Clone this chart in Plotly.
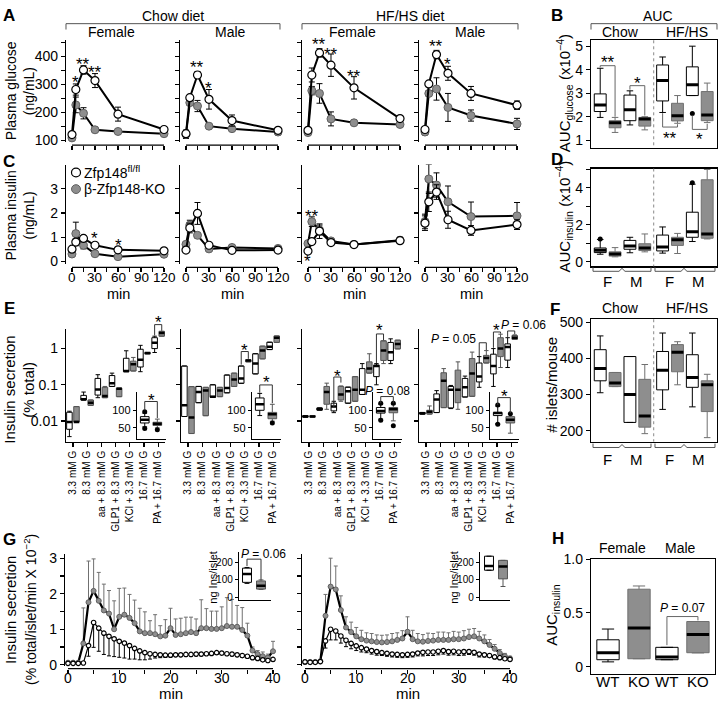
import math
import plotly.graph_objects as go

W, H = 722, 708
FONT = "Liberation Sans, Arial, Helvetica, sans-serif"
GRAY = "#8e8e8e"
GRAY_EDGE = "#606060"

# ====================== DATA ======================
GTT_MIN = [0, 5, 15, 30, 60, 120]

GLU_CF_WT = [120, 281, 351, 313, 193, 138]
GLU_CF_WT_ERR = [8, 20, 15, 25, 25, 10]
GLU_CF_KO = [108, 226, 196, 137, 131, 123]
GLU_CF_KO_ERR = [8, 28, 20, 8, 8, 8]
GLU_CM_WT = [123, 252, 333, 246, 170, 135]
GLU_CM_WT_ERR = [10, 8, 12, 35, 20, 8]
GLU_CM_KO = [121, 234, 222, 150, 141, 129]
GLU_CM_KO_ERR = [15, 10, 20, 8, 8, 10]
GLU_HF_WT = [135, 333, 412, 368, 287, 177]
GLU_HF_WT_ERR = [10, 25, 15, 40, 40, 8]
GLU_HF_KO = [127, 277, 267, 176, 162, 156]
GLU_HF_KO_ERR = [8, 15, 35, 25, 8, 8]
GLU_HM_WT = [138, 301, 406, 339, 267, 225]
GLU_HM_WT_ERR = [10, 8, 15, 25, 25, 15]
GLU_HM_KO = [129, 267, 283, 217, 188, 158]
GLU_HM_KO_ERR = [10, 10, 40, 50, 20, 20]

INS_CF_WT = [0.51, 0.80, 0.95, 0.67, 0.48, 0.44]
INS_CF_WT_ERR = [0.05, 0.15, 0.12, 0.10, 0.05, 0.05]
INS_CF_KO = [0.31, 1.15, 0.67, 0.32, 0.20, 0.30]
INS_CF_KO_ERR = [0.05, 0.47, 0.15, 0.05, 0.05, 0.05]
INS_CM_WT = [0.47, 1.38, 1.98, 0.67, 0.46, 0.47]
INS_CM_WT_ERR = [0.05, 0.20, 0.45, 0.05, 0.05, 0.05]
INS_CM_KO = [0.71, 1.50, 1.08, 0.52, 0.58, 0.54]
INS_CM_KO_ERR = [0.10, 0.20, 0.10, 0.05, 0.12, 0.08]
INS_HF_WT = [0.43, 0.82, 1.25, 0.78, 0.70, 0.86]
INS_HF_WT_ERR = [0.05, 0.10, 0.30, 0.10, 0.05, 0.10]
INS_HF_KO = [0.74, 1.64, 1.30, 0.85, 0.70, 0.88]
INS_HF_KO_ERR = [0.08, 0.20, 0.20, 0.10, 0.08, 0.12]
INS_HM_WT = [1.58, 2.46, 2.86, 1.72, 1.28, 1.52]
INS_HM_WT_ERR = [0.30, 0.40, 0.30, 0.35, 0.20, 0.20]
INS_HM_KO = [1.65, 3.40, 3.15, 2.46, 1.85, 1.88]
INS_HM_KO_ERR = [0.30, 0.60, 0.50, 0.65, 0.60, 0.55]

GTT_TICKS = [0, 15, 30, 45, 60, 75, 90, 105, 120]
GTT_LABELS = [0, 30, 60, 90, 120]

GLU_STARS = [[(5, 322, '*'), (15, 386, '**'), (30, 359, '**')],
             [(15, 374, '**'), (30, 302, '*')],
             [(15, 456, '**'), (30, 421, '**'), (60, 345, '**')],
             [(15, 450, '**'), (30, 386, '*')]]
INS_STARS = [[(30, 1.14, '*'), (60, 0.85, '*')], [],
             [(5, 2.05, '**'), (0, 0.2, '*')], []]

# box stats: (low whisker, q1, median, q3, high whisker); groups: Chow F, Chow M, HF F, HF M
AUCG_WT = [(1.97, 2.22, 2.50, 2.97, 4.06), (1.65, 1.83, 2.30, 2.92, 3.10),
           (2.18, 2.67, 3.54, 4.20, 4.54), (2.90, 2.90, 3.36, 4.12, 5.00)]
AUCG_KO = [(1.33, 1.53, 1.74, 1.83, 1.97), (1.44, 1.60, 1.90, 1.97, 2.00),
           (1.72, 1.82, 2.04, 2.57, 2.90), (1.75, 1.83, 2.07, 3.07, 3.43)]
AUCG_WT_OUT = [[], [], [], [2.14]]

AUCI_WT = [(0.40, 0.49, 0.62, 0.74, 1.20), (0.48, 0.67, 0.85, 1.15, 1.32),
           (0.46, 0.58, 0.79, 1.44, 1.88), (1.09, 1.32, 1.62, 2.68, 4.20)]
AUCI_KO = [(0.26, 0.30, 0.42, 0.53, 0.76), (0.53, 0.60, 0.74, 0.97, 1.50),
           (0.44, 0.88, 1.18, 1.32, 1.53), (1.23, 1.27, 1.50, 4.44, 5.00)]
AUCI_WT_OUT = [[1.23], [], [], [4.28]]

ISLET_WT = [(305, 338, 372, 424, 462), (223, 223, 300, 405, 405),
            (259, 313, 367, 419, 470), (266, 320, 347, 410, 470)]
ISLET_KO = [(322, 322, 332, 361, 361), (192, 210, 241, 342, 383),
            (327, 363, 417, 438, 446), (181, 253, 327, 338, 356)]

E_LABELS = ['3.3 mM G', '8.3 mM G', 'aa + 8.3 mM G', 'GLP1 + 8.3 mM G',
            'KCl + 3.3 mM G', '16.7 mM G', 'PA + 16.7 mM G']
E_CF_WT = [(0.0037, 0.0059, 0.0094, 0.0174, 0.0186), (0.038, 0.038, 0.040, 0.051, 0.063),
           (0.044, 0.052, 0.074, 0.15, 0.19), (0.09, 0.09, 0.11, 0.18, 0.21),
           (0.23, 0.23, 0.24, 0.54, 0.87), (0.23, 0.31, 0.49, 0.96, 1.23), (0.78, 1.0, 1.45, 2.0, 2.2)]
E_CF_KO = [(0.0094, 0.0094, 0.0094, 0.025, 0.025), (0.027, 0.027, 0.032, 0.038, 0.038),
           (0.044, 0.044, 0.049, 0.085, 0.09), (0.047, 0.047, 0.078, 0.081, 0.081),
           (0.24, 0.24, 0.37, 0.45, 0.57), (0.71, 0.71, 0.75, 0.78, 0.78), (2.2, 2.2, 2.7, 3.0, 3.0)]
E_CM_WT = [(0.0133, 0.0133, 0.027, 0.33, 0.33), (0.032, 0.032, 0.063, 0.09, 0.09),
           (0.045, 0.045, 0.047, 0.10, 0.10), (0.06, 0.06, 0.081, 0.186, 0.186),
           (0.11, 0.11, 0.15, 0.33, 0.33), (0.2, 0.2, 0.385, 0.72, 0.72), (0.94, 0.94, 1.13, 1.5, 1.5)]
E_CM_KO = [(0.0045, 0.0045, 0.0125, 0.089, 0.089), (0.014, 0.014, 0.07, 0.085, 0.085),
           (0.047, 0.047, 0.069, 0.085, 0.085), (0.09, 0.09, 0.14, 0.21, 0.21),
           (0.43, 0.43, 0.47, 0.49, 0.49), (0.52, 0.52, 0.88, 1.17, 1.17), (1.48, 1.48, 2.0, 2.24, 2.24)]
E_HF_WT = [(0.0128, 0.0128, 0.0134, 0.014, 0.014), (0.02, 0.02, 0.021, 0.023, 0.023),
           (0.017, 0.019, 0.025, 0.031, 0.035), (0.031, 0.031, 0.066, 0.086, 0.086),
           (0.054, 0.054, 0.073, 0.28, 0.385), (0.1, 0.168, 0.33, 0.35, 0.385), (0.385, 0.47, 0.79, 1.48, 1.86)]
E_HF_KO = [(0.0128, 0.0128, 0.0134, 0.014, 0.014), (0.021, 0.029, 0.063, 0.09, 0.111),
           (0.035, 0.038, 0.054, 0.09, 0.093), (0.035, 0.035, 0.073, 0.168, 0.168),
           (0.21, 0.21, 0.28, 0.43, 0.72), (0.385, 0.47, 0.88, 1.64, 1.64), (0.98, 0.98, 1.34, 1.71, 1.71)]
E_HM_WT = [(0.0155, 0.0155, 0.0164, 0.0172, 0.0172), (0.0171, 0.0171, 0.039, 0.056, 0.069),
           (0.022, 0.023, 0.073, 0.09, 0.096), (0.046, 0.046, 0.085, 0.15, 0.174),
           (0.085, 0.12, 0.17, 0.4, 0.6), (0.09, 0.2, 0.33, 0.7, 1.0), (0.3, 0.48, 1.1, 1.35, 2.0)]
E_HM_KO = [(0.0155, 0.0155, 0.018, 0.0198, 0.026), (0.0234, 0.0234, 0.13, 0.215, 0.28),
           (0.021, 0.032, 0.073, 0.254, 0.43), (0.048, 0.048, 0.206, 0.53, 0.8),
           (0.4, 0.4, 0.55, 0.65, 0.88), (0.3, 0.6, 1.0, 2.0, 2.5), (1.8, 1.8, 2.0, 2.3, 2.4)]

# insets (16.7 mM G)
EI_CF_WT, EI_CF_KO = (53, 64, 73, 82, 92), (50, 57, 62, 66, 75)
EI_CM_WT, EI_CM_KO = (85, 100, 117, 135, 148), (69, 76, 89, 94, 117)
EI_HF_WT, EI_HF_KO = (75, 92, 98, 108, 117), (70, 93, 103, 108, 117)
EI_HM_WT, EI_HM_KO = (62, 85, 92, 94, 112), (35, 64, 73, 82, 89)
EI_OUT_WT = [[96, 48], [], [120, 72], [115, 60]]
EI_OUT_KO = [[45], [64], [120, 56], [90]]

PERI_MIN = list(range(41))
PERI_TICKS = [0, 5, 10, 15, 20, 25, 30, 35, 40]
PERI_LABELS = [0, 10, 20, 30, 40]
G1_KO = [0.06, 0.06, 0.06, 0.60, 1.76, 2.08, 1.80, 1.53, 1.44, 1.00, 1.35, 1.41, 1.32, 1.17, 0.94,
         0.89, 0.89, 0.86, 0.80, 0.82, 1.03, 0.84, 0.86, 0.89, 0.92, 0.89, 1.03, 1.03, 1.01, 1.01,
         1.03, 1.09, 1.07, 1.07, 0.98, 0.82, 0.40, 0.30, 0.24, 0.20, 0.38]
G1_KO_ERR = [0.02, 0.02, 0.02, 1.00, 1.16, 0.90, 0.80, 0.74, 0.65, 0.80, 0.80, 0.75, 0.66, 0.65, 0.65,
             0.60, 0.35, 0.55, 0.30, 0.45, 0.56, 0.45, 0.45, 0.45, 0.42, 0.40, 0.80, 0.55, 0.50, 0.50,
             0.60, 0.80, 0.77, 0.60, 0.63, 0.35, 0.10, 0.10, 0.12, 0.10, 0.28]
G1_WT = [0.04, 0.04, 0.04, 0.05, 0.54, 1.19, 1.03, 0.89, 0.80, 0.73, 0.66, 0.61, 0.54, 0.46, 0.39,
         0.34, 0.31, 0.29, 0.28, 0.27, 0.27, 0.28, 0.28, 0.29, 0.29, 0.30, 0.30, 0.31, 0.32, 0.34,
         0.33, 0.31, 0.30, 0.28, 0.26, 0.24, 0.20, 0.18, 0.14, 0.12, 0.15]
G1_WT_ERR = [0.01, 0.01, 0.01, 0.01, 0.30, 0.70, 0.65, 0.60, 0.55, 0.50, 0.45, 0.42, 0.38, 0.30, 0.25,
             0.20, 0.15, 0.10, 0.08, 0.06, 0.05, 0.05, 0.05, 0.05, 0.05, 0.05, 0.05, 0.05, 0.05, 0.05,
             0.05, 0.05, 0.05, 0.05, 0.05, 0.05, 0.05, 0.05, 0.04, 0.04, 0.04]
G2_KO = [0.08, 0.08, 0.08, 0.10, 1.38, 2.20, 2.12, 1.54, 1.05, 0.92, 0.80, 0.72, 0.68, 0.66, 0.64,
         0.63, 0.64, 0.66, 0.70, 0.74, 0.93, 0.72, 0.66, 0.65, 0.67, 0.68, 0.70, 0.70, 0.70, 0.72,
         0.72, 0.74, 0.78, 0.80, 0.74, 0.66, 0.56, 0.45, 0.33, 0.24, 0.18]
G2_KO_ERR = [0.02, 0.02, 0.02, 0.02, 0.60, 0.80, 0.66, 0.40, 0.30, 0.28, 0.25, 0.25, 0.22, 0.22, 0.20,
             0.20, 0.20, 0.22, 0.20, 0.22, 0.42, 0.25, 0.22, 0.20, 0.22, 0.20, 0.22, 0.22, 0.20, 0.22,
             0.20, 0.22, 0.22, 0.22, 0.20, 0.18, 0.15, 0.12, 0.10, 0.08, 0.06]
G2_WT = [0.08, 0.07, 0.07, 0.09, 0.67, 1.00, 0.95, 0.81, 0.69, 0.60, 0.53, 0.48, 0.44, 0.40, 0.37,
         0.34, 0.32, 0.30, 0.29, 0.28, 0.29, 0.30, 0.33, 0.35, 0.36, 0.36, 0.38, 0.40, 0.37, 0.38,
         0.36, 0.37, 0.37, 0.35, 0.30, 0.28, 0.26, 0.22, 0.20, 0.17, 0.15]
G2_WT_ERR = [0.01, 0.01, 0.01, 0.01, 0.20, 0.30, 0.25, 0.20, 0.18, 0.15, 0.13, 0.12, 0.10, 0.10, 0.10,
             0.08, 0.08, 0.08, 0.08, 0.08, 0.08, 0.08, 0.08, 0.10, 0.10, 0.10, 0.10, 0.10, 0.10, 0.10,
             0.10, 0.10, 0.08, 0.08, 0.08, 0.06, 0.05, 0.05, 0.04, 0.04, 0.03]
GI1_WT, GI1_KO = (80, 86, 134, 168, 172), (45, 47, 66, 94, 100)
GI2_WT, GI2_KO = (156, 156, 181, 237, 237), (62, 106, 178, 213, 213)

H_WT = [(0.045, 0.065, 0.13, 0.25, 0.35), (0.065, 0.065, 0.09, 0.18, 0.18)]
H_KO = [(0.074, 0.074, 0.36, 0.72, 0.75), (0.128, 0.13, 0.30, 0.42, 0.42)]

# ====================== HELPERS ======================
fig = go.Figure()
layout = dict(width=W, height=H, margin=dict(l=0, r=0, t=0, b=0), paper_bgcolor='white',
              plot_bgcolor='rgba(0,0,0,0)', showlegend=False,
              font=dict(family=FONT, size=14, color='black'))
shapes, annots = [], []
n_ax = [0]


def PX(p):
    return p / W


def PY(p):
    return 1 - p / H


class Panel:
    def __init__(self, xd, yd, xr, yr, ylog):
        self.xd, self.yd, self.xr, self.yr, self.ylog = xd, yd, xr, yr, ylog

    def px(self, v):
        return self.xd[0] + (v - self.xr[0]) / (self.xr[1] - self.xr[0]) * (self.xd[1] - self.xd[0])

    def py(self, v):
        vv = math.log10(v) if self.ylog else v
        return self.yd[1] - (vv - self.yr[0]) / (self.yr[1] - self.yr[0]) * (self.yd[1] - self.yd[0])


def axes(xd, yd, xr, yr, xopt=None, yopt=None, ylog=False, fs=14):
    n_ax[0] += 1
    n = n_ax[0]
    sx = '' if n == 1 else str(n)
    xid, yid = 'x' + sx, 'y' + sx
    base = dict(showgrid=False, zeroline=False, linecolor='black', linewidth=1.2, ticks='outside',
                ticklen=4, tickwidth=1.1, tickcolor='black', fixedrange=True,
                tickfont=dict(family=FONT, size=fs, color='black'))
    xa = dict(base, domain=[PX(xd[0]), PX(xd[1])], range=list(xr), anchor=yid)
    ya = dict(base, domain=[PY(yd[1]), PY(yd[0])], range=list(yr), anchor=xid)
    if ylog:
        ya['type'] = 'log'
    xa.update(xopt or {})
    ya.update(yopt or {})
    layout['xaxis' + sx] = xa
    layout['yaxis' + sx] = ya
    return xid, yid, Panel(xd, yd, xr, yr, ylog)


def line_px(pts, color='black', width=1.0, dash=None):
    path = 'M ' + ' L '.join('%.5f,%.5f' % (PX(x), PY(y)) for x, y in pts)
    ln = dict(color=color, width=width)
    if dash:
        ln['dash'] = dash
    shapes.append(dict(type='path', path=path, xref='paper', yref='paper', line=ln, layer='above'))


def text_px(x, y, s, size=14, xanchor='center', angle=0, color='black'):
    annots.append(dict(x=PX(x), y=PY(y), xref='paper', yref='paper', text=s, showarrow=False,
                       xanchor=xanchor, yanchor='middle', textangle=angle,
                       font=dict(family=FONT, size=size, color=color)))


def vtitle(x, y, s, size=15):
    # rotated text: the glyphs sit right of the box centre, so nudge left
    text_px(x - 3, y, s, size, angle=-90)


def star(p, x, y, s, size=17):
    text_px(p.px(x), p.py(y) + 4.5, s, size)


def bracket(p, xa, ya, xb, yb, ybar, color='#333333'):
    line_px([(p.px(xa), p.py(ya)), (p.px(xa), p.py(ybar)), (p.px(xb), p.py(ybar)),
             (p.px(xb), p.py(yb))], color=color, width=1)


def group_br(xl, xm, xr, y):
    line_px([(xl, y - 4), (xl, y), (xm - 3, y), (xm, y - 3), (xm + 3, y), (xr, y), (xr, y - 4)],
            color='#555555', width=1)


def boxes(xid, yid, pos, stats, fill, edge, width, medw=3.0, ww=0.55):
    lo, q1, md, q3, hi = [list(c) for c in zip(*stats)]
    fig.add_trace(go.Box(x=list(pos), q1=q1, median=md, q3=q3, lowerfence=lo, upperfence=hi,
                         xaxis=xid, yaxis=yid, fillcolor=fill, line=dict(color=edge, width=1),
                         width=width, whiskerwidth=ww, boxpoints=False, hoverinfo='skip',
                         showlegend=False))
    xs, ys = [], []
    for p, m in zip(pos, md):
        xs += [p - width / 2, p + width / 2, None]
        ys += [m, m, None]
    fig.add_trace(go.Scatter(x=xs, y=ys, xaxis=xid, yaxis=yid, mode='lines',
                             line=dict(color='black', width=medw), hoverinfo='skip',
                             showlegend=False, cliponaxis=False))


def dots(xid, yid, pos, outs, size=5):
    xs, ys = [], []
    for p, o in zip(pos, outs):
        for v in o:
            xs.append(p)
            ys.append(v)
    if xs:
        fig.add_trace(go.Scatter(x=xs, y=ys, xaxis=xid, yaxis=yid, mode='markers',
                                 marker=dict(size=size, color='black'), hoverinfo='skip',
                                 showlegend=False, cliponaxis=False))


def curve(xid, yid, t, y, err, kind, msize=8, lw=2.0, up=True, down=True, ecol='black', cap=3):
    zeros = [0] * len(err)
    ey = dict(type='data', symmetric=False, array=err if up else zeros,
              arrayminus=err if down else zeros, color=ecol, thickness=1, width=cap)
    if kind == 'wt':
        mk = dict(size=msize, color='white', line=dict(color='black', width=1.2))
    else:
        mk = dict(size=msize, color=GRAY, line=dict(color=GRAY_EDGE, width=1))
    fig.add_trace(go.Scatter(x=t, y=y, xaxis=xid, yaxis=yid, mode='lines+markers',
                             line=dict(color='black', width=lw), marker=mk, error_y=ey,
                             hoverinfo='skip', showlegend=False, cliponaxis=False))


# ====================== PANELS A & C ======================
COLS = [66, 180, 302, 419]
TR = [-7.8, 127.8]
GLU = [(GLU_CF_WT, GLU_CF_WT_ERR, GLU_CF_KO, GLU_CF_KO_ERR),
       (GLU_CM_WT, GLU_CM_WT_ERR, GLU_CM_KO, GLU_CM_KO_ERR),
       (GLU_HF_WT, GLU_HF_WT_ERR, GLU_HF_KO, GLU_HF_KO_ERR),
       (GLU_HM_WT, GLU_HM_WT_ERR, GLU_HM_KO, GLU_HM_KO_ERR)]
INS = [(INS_CF_WT, INS_CF_WT_ERR, INS_CF_KO, INS_CF_KO_ERR),
       (INS_CM_WT, INS_CM_WT_ERR, INS_CM_KO, INS_CM_KO_ERR),
       (INS_HF_WT, INS_HF_WT_ERR, INS_HF_KO, INS_HF_KO_ERR),
       (INS_HM_WT, INS_HM_WT_ERR, INS_HM_KO, INS_HM_KO_ERR)]
for i, x0 in enumerate(COLS):
    gv = [100, 150, 200, 250, 300, 350, 400, 450]
    gt = ['100', '', '200', '', '300', '', '400', ''] if i == 0 else [''] * 8
    xid, yid, p = axes((x0, x0 + 104), (33, 137), TR, [93, 457],
                       xopt=dict(anchor='free', position=PY(140), showline=False, tickvals=GTT_TICKS,
                                 showticklabels=False),
                       yopt=dict(showline=True, tickvals=gv, ticktext=gt))
    line_px([(p.px(GTT_TICKS[0]), 140), (p.px(GTT_TICKS[-1]), 140)], width=1.2)
    wt, we, ko, ke = GLU[i]
    curve(xid, yid, GTT_MIN, ko, ke, 'ko')
    curve(xid, yid, GTT_MIN, wt, we, 'wt')
    for (t, v, s) in GLU_STARS[i]:
        star(p, t, v, s)

    iv = [0, 1, 2, 3, 4]
    it = ['0', '1', '2', '3', '4'] if i == 0 else [''] * 5
    xid, yid, p = axes((x0, x0 + 104), (160, 262), TR, [-0.12, 3.99],
                       xopt=dict(anchor='free', position=PY(265), showline=False, tickvals=GTT_TICKS,
                                 showticklabels=False),
                       yopt=dict(showline=True, tickvals=iv, ticktext=it))
    line_px([(p.px(GTT_TICKS[0]), 265), (p.px(GTT_TICKS[-1]), 265)], width=1.2)
    for t in GTT_LABELS:
        text_px(p.px(t), 275, str(t), 13.5)
    wt, we, ko, ke = INS[i]
    curve(xid, yid, GTT_MIN, ko, ke, 'ko')
    curve(xid, yid, GTT_MIN, wt, we, 'wt')
    for (t, v, s) in INS_STARS[i]:
        star(p, t, v, s)
    text_px(x0 + 52, 292, 'min', 14.5)

# headers
text_px(173, 8, 'Chow diet', 14)
text_px(410, 8, 'HF/HS diet', 14)
line_px([(66, 22), (66, 16), (280, 16), (280, 22)], color='#555555')
line_px([(302, 22), (302, 16), (518, 16), (518, 22)], color='#555555')
for xc, s in [(112, 'Female'), (230, 'Male'), (352, 'Female'), (470, 'Male')]:
    text_px(xc, 25, s, 14)
vtitle(14, 85, 'Plasma glucose', 14)
vtitle(32, 85, '(ng/mL)', 14)
vtitle(14, 212, 'Plasma insulin', 14)
vtitle(32, 212, '(ng/mL)', 14)
# legend
shapes.append(dict(type='circle', xref='paper', yref='paper', x0=PX(71.5), x1=PX(80.5),
                   y0=PY(172.5), y1=PY(163.5), fillcolor='white', line=dict(color='black', width=1.2)))
shapes.append(dict(type='circle', xref='paper', yref='paper', x0=PX(71.5), x1=PX(80.5),
                   y0=PY(189.5), y1=PY(180.5), fillcolor=GRAY, line=dict(color=GRAY_EDGE, width=1)))
text_px(82, 168, 'Zfp148<sup>fl/fl</sup>', 14, xanchor='left')
text_px(82, 185, 'β-Zfp148-KO', 14, xanchor='left')

# ====================== PANELS B, D, F ======================
POS_WT = [0, 2, 4.2, 6.2]
POS_KO = [1, 3, 5.2, 7.2]
BXR = [-0.62, 7.86]
frame = dict(showline=True, mirror=True)

xid, yid, p = axes((591, 717), (33, 143), BXR, [0.67, 5.25],
                   xopt=dict(frame, ticks='', showticklabels=False),
                   yopt=dict(frame, tickvals=[1, 2, 3, 4, 5]))
line_px([(p.px(3.6), 33), (p.px(3.6), 143)], color='#888888', dash='dot')
boxes(xid, yid, POS_WT, AUCG_WT, 'white', 'black', 0.8)
boxes(xid, yid, POS_KO, AUCG_KO, GRAY, '#707070', 0.8)
dots(xid, yid, POS_WT, AUCG_WT_OUT)
for (xa, ya, xb, yb, ybar, s, ys) in [(0, 4.1, 1, 2.0, 4.17, '**', 4.5), (2, 3.15, 3, 2.05, 3.32, '*', 3.62),
                                      (4.2, 2.15, 5.2, 1.68, 1.56, '**', 1.28),
                                      (6.2, 2.05, 7.2, 1.7, 1.46, '*', 1.2)]:
    bracket(p, xa, ya, xb, yb, ybar, color='#666666')
    star(p, (xa + xb) / 2, ys, s)
text_px(658, 8, 'AUC', 14)
line_px([(591, 22), (591, 16), (717, 16), (717, 22)], color='#555555')
text_px(620, 25, 'Chow', 14)
text_px(687, 25, 'HF/HS', 14)
vtitle(567, 87, 'AUC<sub>glucose</sub> (x10<sup>−4</sup>)')

xid, yid, p = axes((591, 717), (164, 264), BXR, [-0.26, 5.05],
                   xopt=dict(frame, ticks='', showticklabels=False),
                   yopt=dict(frame, tickvals=[0, 1, 2, 3, 4, 5], ticktext=['0', '', '2', '', '4', '']))
line_px([(p.px(3.6), 164), (p.px(3.6), 264)], color='#888888', dash='dot')
boxes(xid, yid, POS_WT, AUCI_WT, 'white', 'black', 0.8)
boxes(xid, yid, POS_KO, AUCI_KO, GRAY, '#707070', 0.8)
dots(xid, yid, POS_WT, AUCI_WT_OUT)
group_br(593, 622, 651, 269)
group_br(655, 684, 715, 269)
for xc, s in [(607, 'F'), (636, 'M'), (669, 'F'), (698, 'M')]:
    text_px(xc, 279, s, 15)
vtitle(567, 213, 'AUC<sub>insulin</sub> (x10<sup>−4</sup>)')

xid, yid, p = axes((591, 717), (318, 443), BXR, [170, 508],
                   xopt=dict(frame, ticks='', showticklabels=False),
                   yopt=dict(frame, tickvals=[200, 300, 400, 500]))
line_px([(p.px(3.6), 318), (p.px(3.6), 443)], color='#888888', dash='dot')
boxes(xid, yid, POS_WT, ISLET_WT, 'white', 'black', 0.8)
boxes(xid, yid, POS_KO, ISLET_KO, GRAY, '#707070', 0.8)
group_br(593, 622, 651, 449)
group_br(655, 684, 715, 449)
for xc, s in [(607, 'F'), (636, 'M'), (669, 'F'), (698, 'M')]:
    text_px(xc, 461, s, 15)
text_px(620, 307, 'Chow', 14)
text_px(687, 307, 'HF/HS', 14)
vtitle(555, 385, '# islets/mouse')

# ====================== PANEL E ======================
E_SETS = [(E_CF_WT, E_CF_KO, EI_CF_WT, EI_CF_KO), (E_CM_WT, E_CM_KO, EI_CM_WT, EI_CM_KO),
          (E_HF_WT, E_HF_KO, EI_HF_WT, EI_HF_KO), (E_HM_WT, E_HM_KO, EI_HM_WT, EI_HM_KO)]
E_COLS = [66, 181, 302, 419]
CATS = list(range(len(E_LABELS)))
EP_WT = [c - 0.25 for c in CATS]
EP_KO = [c + 0.25 for c in CATS]
epanels, ipanels = [], []
for i, x0 in enumerate(E_COLS):
    wt, ko, iwt, iko = E_SETS[i]
    yt = ['0.01', '0.1', '1'] if i == 0 else [''] * 3
    xid, yid, p = axes((x0, x0 + 99), (328, 443), [-0.49, 6.48], [-2.57, 0.54], ylog=True,
                       xopt=dict(showline=True, tickvals=CATS, ticktext=E_LABELS, tickangle=-90,
                                 tickfont=dict(family=FONT, size=10, color='black')),
                       yopt=dict(showline=True, tickvals=[0.01, 0.1, 1], ticktext=yt))
    boxes(xid, yid, EP_WT, wt, 'white', 'black', 0.39, medw=2.5, ww=0.8)
    boxes(xid, yid, EP_KO, ko, GRAY, '#555555', 0.39, medw=2.5, ww=0.8)
    epanels.append(p)
    xid, yid, q = axes((x0 + 71, x0 + 100), (392, 440), [-0.615, 1.69], [19.4, 152.8], fs=11,
                       xopt=dict(showline=True, ticks='', showticklabels=False),
                       yopt=dict(showline=True, tickvals=[50, 100], ticklen=3))
    boxes(xid, yid, [0], [iwt], 'white', 'black', 0.69, medw=2.5)
    boxes(xid, yid, [1], [iko], GRAY, '#555555', 0.69, medw=2.5)
    dots(xid, yid, [0], [EI_OUT_WT[i]], 5)
    dots(xid, yid, [1], [EI_OUT_KO[i]], 5)
    ipanels.append(q)

p, q = epanels[0], ipanels[0]
bracket(p, 5.75, 2.3, 6.25, 3.1, 4.6); star(p, 6.0, 6.9, '*')
bracket(q, 0, 100, 1, 78, 125); star(q, 0.5, 139, '*')
p, q = epanels[1], ipanels[1]
bracket(p, 3.75, 0.36, 4.25, 0.52, 0.83); star(p, 4.0, 1.2, '*')
bracket(q, 0, 150, 1, 120, 172); star(q, 0.5, 192, '*')
p, q = epanels[2], ipanels[2]
bracket(p, 1.75, 0.024, 2.25, 0.115, 0.164); star(p, 2.0, 0.224, '*')
bracket(p, 4.75, 0.4, 5.25, 1.7, 2.54); star(p, 5.0, 4.2, '*')
bracket(q, 0, 120, 1, 120, 139)
text_px(q.px(0.5), q.py(156), '<i>P</i> = 0.08', 12)
p, q = epanels[3], ipanels[3]
bracket(p, 3.75, 0.62, 4.25, 0.9, 1.45)
text_px(p.px(3.7) - 1, p.py(1.9), '<i>P</i> = 0.05', 12, xanchor='right')
bracket(p, 4.75, 1.05, 5.25, 2.6, 2.88); star(p, 5.0, 4.2, '*')
bracket(p, 5.75, 2.1, 6.25, 2.5, 3.07)
text_px(p.px(6.0) + 12, p.py(4.5), '<i>P</i> = 0.06', 12)
bracket(q, 0, 115, 1, 92, 136); star(q, 0.5, 153, '*')
vtitle(13, 390, 'Insulin secretion')
vtitle(32, 390, '(% total)')

# ====================== PANEL G ======================
GV = [0, 0.5, 1, 1.5, 2, 2.5, 3]
for j, (x0, ko, ke, wt, we) in enumerate([(65, G1_KO, G1_KO_ERR, G1_WT, G1_WT_ERR),
                                          (302, G2_KO, G2_KO_ERR, G2_WT, G2_WT_ERR)]):
    gl = ['0', '', '1', '', '2', '', '3'] if j == 0 else [''] * 7
    xid, yid, p = axes((x0, x0 + 211), (558, 672), [-0.585, 40.585], [-0.028, 3.113],
                       xopt=dict(anchor='free', position=PY(675), showline=False, tickvals=PERI_TICKS,
                                 showticklabels=False),
                       yopt=dict(showline=True, tickvals=GV, ticktext=gl))
    line_px([(p.px(PERI_TICKS[0]), 675), (p.px(PERI_TICKS[-1]), 675)], width=1.2)
    for t in PERI_LABELS:
        text_px(p.px(t), 685, str(t), 14)
    curve(xid, yid, PERI_MIN, ko, ke, 'ko', msize=5, lw=2.2, up=True, down=False, ecol='#707070', cap=2)
    curve(xid, yid, PERI_MIN, wt, we, 'wt', msize=4.5, lw=1.2, up=False, down=True, ecol='black', cap=2)
    text_px(x0 + 106, 700, 'min', 15)

xid, yid, q = axes((239, 271), (556, 605), [-0.571, 1.714], [-17, 260], fs=10,
                   xopt=dict(showline=True, ticks='', showticklabels=False),
                   yopt=dict(showline=True, tickvals=[0, 100, 200], ticklen=3))
boxes(xid, yid, [0], [GI1_WT], 'white', 'black', 0.64, medw=2.5)
boxes(xid, yid, [1], [GI1_KO], GRAY, '#555555', 0.64, medw=2.5)
bracket(q, 0, 180, 1, 100, 220)
text_px(q.px(1.0) + 2, q.py(250), '<i>P</i> = 0.06', 12)
vtitle(216, 582, 'ng Ins/islet', 11)
xid, yid, q = axes((480, 510), (556, 605), [-0.643, 1.5], [-17, 260], fs=10,
                   xopt=dict(showline=True, ticks='', showticklabels=False),
                   yopt=dict(showline=True, tickvals=[0, 100, 200], ticklen=3))
boxes(xid, yid, [0], [GI2_WT], 'white', 'black', 0.64, medw=2.5)
boxes(xid, yid, [1], [GI2_KO], GRAY, '#555555', 0.64, medw=2.5)
vtitle(457, 582, 'ng Ins/islet', 11)
vtitle(14, 615, 'Insulin secretion')
vtitle(33, 615, '(% total/islet/min X 10<sup>−2</sup>)', 14)

# ====================== PANEL H ======================
H_POS_WT = [0, 1.9]
H_POS_KO = [1, 2.9]
xid, yid, p = axes((591, 715), (563, 680), [-0.548, 3.45], [-0.064, 1.0],
                   xopt=dict(frame, ticks='', showticklabels=False),
                   yopt=dict(frame, tickvals=[0, 0.5, 1.0], ticktext=['0', '0.5', '1.0']))
boxes(xid, yid, H_POS_WT, H_WT, 'white', 'black', 0.72)
boxes(xid, yid, H_POS_KO, H_KO, GRAY, '#707070', 0.72)
bracket(p, 1.9, 0.2, 2.9, 0.43, 0.466, color='#666666')
text_px(p.px(2.4), p.py(0.55), '<i>P</i> = 0.07', 12)
for xc, s in [(p.px(0), 'WT'), (p.px(1), 'KO'), (p.px(1.9), 'WT'), (p.px(2.9), 'KO')]:
    text_px(xc, 688, s, 15)
text_px(622, 552, 'Female', 14)
text_px(680, 552, 'Male', 14)
vtitle(556, 620, 'AUC<sub>insulin</sub>')

# ====================== PANEL LETTERS ======================
for s, x, y in [('A', 9, 8), ('B', 557, 8), ('C', 9, 157), ('D', 557, 155), ('E', 9, 307),
                ('F', 555, 308), ('G', 9, 543), ('H', 558, 542)]:
    text_px(x, y, '<b>%s</b>' % s, 17)

layout['shapes'] = shapes
layout['annotations'] = annots
fig.update_layout(**layout)
fig.write_html("out.html", config={'displayModeBar': False, 'staticPlot': True},
               post_script="document.body.style.margin='0';document.body.style.overflow='hidden';")
